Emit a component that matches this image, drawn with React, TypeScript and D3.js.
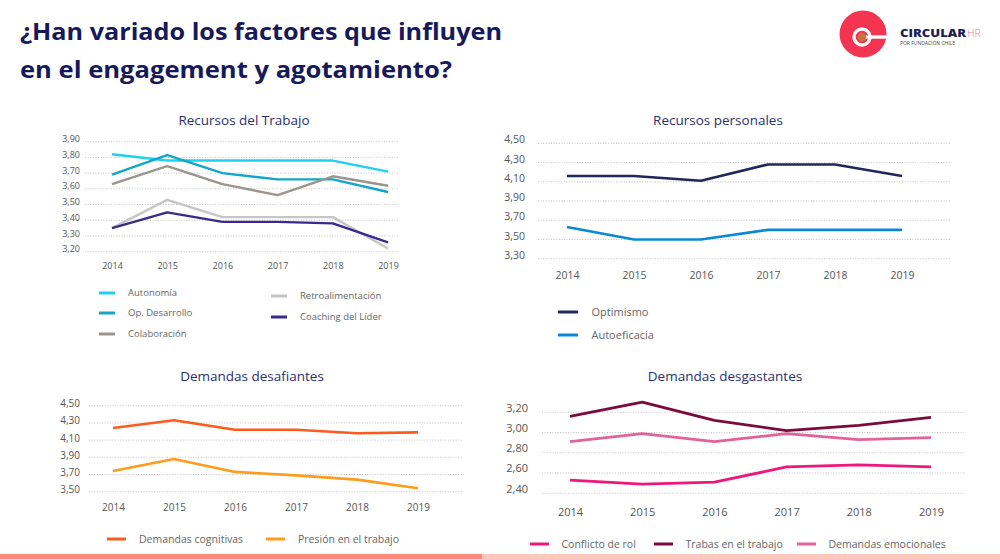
import { useEffect, useRef } from "react";
import * as d3 from "d3";

const years = ["2014", "2015", "2016", "2017", "2018", "2019"];

// Recursos del Trabajo
const trabajoTicks = [3.2, 3.3, 3.4, 3.5, 3.6, 3.7, 3.8, 3.9];
const autonomia = [3.82, 3.78, 3.78, 3.78, 3.78, 3.71];
const opDesarrollo = [3.69, 3.815, 3.7, 3.66, 3.66, 3.58];
const colaboracion = [3.63, 3.745, 3.63, 3.56, 3.68, 3.62];
const retroalimentacion = [3.35, 3.53, 3.42, 3.42, 3.42, 3.22];
const coachingLider = [3.35, 3.45, 3.39, 3.39, 3.38, 3.26];

// Recursos personales
const personalesTicks = [3.3, 3.5, 3.7, 3.9, 4.1, 4.3, 4.5];
const optimismo = [4.16, 4.16, 4.11, 4.28, 4.28, 4.16];
const autoeficacia = [3.63, 3.5, 3.5, 3.6, 3.6, 3.6];

// Demandas desafiantes
const desafiantesTicks = [3.5, 3.7, 3.9, 4.1, 4.3, 4.5];
const demandasCognitivas = [4.24, 4.33, 4.22, 4.22, 4.18, 4.19];
const presionTrabajo = [3.74, 3.88, 3.73, 3.69, 3.64, 3.54];

// Demandas desgastantes
const desgastantesTicks = [2.4, 2.6, 2.8, 3.0, 3.2];
const conflictoRol = [2.53, 2.49, 2.51, 2.66, 2.68, 2.66];
const trabasTrabajo = [3.16, 3.3, 3.12, 3.02, 3.07, 3.15];
const demandasEmocionales = [2.91, 2.99, 2.91, 2.99, 2.93, 2.95];

interface Series { name: string; values: number[]; color: string; lx: number; ly: number; }
interface Panel {
  title: string; tx: number; ty: number;
  ticks: number[];
  xRange: [number, number]; yRange: [number, number];
  gridX: [number, number];
  yLabelX: number; yLabelDy: number; xLabelY: number;
  fontSize: number; legendFont: number; legendGap: number; swatchW: number; strokeW: number;
  series: Series[];
}

const panels: Panel[] = [
  {
    title: "Recursos del Trabajo", tx: 244, ty: 120, ticks: trabajoTicks,
    xRange: [112, 388], yRange: [251.7, 141.7], gridX: [85, 398],
    yLabelX: 80, yLabelDy: -3, xLabelY: 266, fontSize: 9, legendFont: 9.5, legendGap: 29, swatchW: 16, strokeW: 2.4,
    series: [
      { name: "Autonomía", values: autonomia, color: "#1fd0f5", lx: 99, ly: 293 },
      { name: "Op. Desarrollo", values: opDesarrollo, color: "#12a6c8", lx: 99, ly: 313 },
      { name: "Colaboración", values: colaboracion, color: "#9b958f", lx: 99, ly: 334 },
      { name: "Retroalimentación", values: retroalimentacion, color: "#c6c6c6", lx: 271, ly: 296 },
      { name: "Coaching del Líder", values: coachingLider, color: "#3b2a8e", lx: 271, ly: 317 },
    ],
  },
  {
    title: "Recursos personales", tx: 718, ty: 120, ticks: personalesTicks,
    xRange: [567, 902], yRange: [258.7, 143.3], gridX: [538, 950],
    yLabelX: 525, yLabelDy: -4, xLabelY: 275, fontSize: 10.5, legendFont: 11, legendGap: 33.5, swatchW: 20, strokeW: 2.6,
    series: [
      { name: "Optimismo", values: optimismo, color: "#1f2858", lx: 558, ly: 312 },
      { name: "Autoeficacia", values: autoeficacia, color: "#0a88d8", lx: 558, ly: 335 },
    ],
  },
  {
    title: "Demandas desafiantes", tx: 252, ty: 376, ticks: desafiantesTicks,
    xRange: [113, 418], yRange: [491.7, 405.7], gridX: [89, 462],
    yLabelX: 80, yLabelDy: -2.5, xLabelY: 507, fontSize: 10, legendFont: 10.5, legendGap: 32, swatchW: 19, strokeW: 2.6,
    series: [
      { name: "Demandas cognitivas", values: demandasCognitivas, color: "#ff5a1e", lx: 107, ly: 539 },
      { name: "Presión en el trabajo", values: presionTrabajo, color: "#ff9c1c", lx: 266, ly: 539 },
    ],
  },
  {
    title: "Demandas desgastantes", tx: 725, ty: 376, ticks: desgastantesTicks,
    xRange: [570, 931], yRange: [493.3, 412.3], gridX: [542, 965],
    yLabelX: 528, yLabelDy: -5, xLabelY: 512, fontSize: 11, legendFont: 10.5, legendGap: 31.5, swatchW: 19, strokeW: 2.8,
    series: [
      { name: "Conflicto de rol", values: conflictoRol, color: "#f0177c", lx: 530, ly: 544 },
      { name: "Trabas en el trabajo", values: trabasTrabajo, color: "#7b0b3c", lx: 654, ly: 544 },
      { name: "Demandas emocionales", values: demandasEmocionales, color: "#e2629c", lx: 797, ly: 544 },
    ],
  },
];

const FONT = "'Open Sans', 'DejaVu Sans', sans-serif";
const fmt = (v: number) => d3.format(".2f")(v).replace(".", ",");

export default function App() {
  const svgRef = useRef<SVGSVGElement>(null);

  useEffect(() => {
    if (!svgRef.current) return;
    const svg = d3.select(svgRef.current);
    svg.selectAll("*").remove();

    svg.append("rect").attr("width", 1000).attr("height", 559).attr("fill", "#ffffff");

    // Heading
    const heading = ["¿Han variado los factores que influyen", "en el engagement y agotamiento?"];
    const headingW = [482, 432];
    heading.forEach((t, i) => {
      svg.append("text").attr("x", 20).attr("y", 39.5 + i * 38.5)
        .attr("font-family", FONT).attr("font-weight", 700).attr("font-size", 22.5)
        .attr("fill", "#16195a").attr("textLength", headingW[i]).attr("lengthAdjust", "spacingAndGlyphs")
        .text(t);
    });

    // Logo
    const logo = svg.append("g");
    logo.append("circle").attr("cx", 863).attr("cy", 34).attr("r", 23.5).attr("fill", "#f43552");
    logo.append("circle").attr("cx", 862).attr("cy", 37).attr("r", 8).attr("fill", "none")
      .attr("stroke", "#fff").attr("stroke-width", 3.4);
    logo.append("rect").attr("x", 862).attr("y", 35.3).attr("width", 25).attr("height", 3.4).attr("fill", "#fff");
    logo.append("circle").attr("cx", 862).attr("cy", 37).attr("r", 4.3).attr("fill", "#c8743c");
    logo.append("text").attr("x", 900).attr("y", 37).attr("font-family", FONT).attr("font-weight", 800)
      .attr("font-size", 10.5).attr("fill", "#1b1d4f").attr("textLength", 66).attr("lengthAdjust", "spacingAndGlyphs")
      .text("CIRCULAR");
    logo.append("text").attr("x", 967).attr("y", 37).attr("font-family", FONT).attr("font-weight", 300)
      .attr("font-size", 10.5).attr("fill", "#f47a8a").text("HR");
    logo.append("text").attr("x", 900).attr("y", 44.5).attr("font-family", FONT)
      .attr("font-size", 4.6).attr("fill", "#444").attr("textLength", 55).attr("lengthAdjust", "spacingAndGlyphs")
      .text("POR FUNDACIÓN CHILE");

    panels.forEach(p => {
      const x = d3.scalePoint<string>().domain(years).range(p.xRange);
      const y = d3.scaleLinear().domain([p.ticks[0], p.ticks[p.ticks.length - 1]]).range(p.yRange);
      const g = svg.append("g");

      g.append("text").attr("x", p.tx).attr("y", p.ty).attr("dy", "0.35em")
        .attr("text-anchor", "middle").attr("font-family", FONT).attr("font-size", 13.5)
        .attr("fill", "#2b2f6c").text(p.title);

      // Dotted grid
      g.selectAll(".grid").data(p.ticks).enter().append("line")
        .attr("x1", p.gridX[0]).attr("x2", p.gridX[1])
        .attr("y1", d => y(d)).attr("y2", d => y(d))
        .attr("stroke", "#bdbdbd").attr("stroke-width", 0.9).attr("stroke-dasharray", "1,1.6");

      // Y axis labels
      g.append("g").attr("transform", `translate(${p.yLabelX},0)`)
        .call(d3.axisLeft(y).tickValues(p.ticks).tickFormat(d => fmt(d as number)).tickSize(0).tickPadding(0))
        .call(ax => ax.select(".domain").remove())
        .call(ax => ax.selectAll(".tick text").attr("fill", "#555").attr("font-size", p.fontSize)
          .attr("font-family", FONT).attr("dy", `${p.yLabelDy + p.fontSize * 0.35}px`));

      // X axis labels
      g.append("g").attr("transform", `translate(0,${p.xLabelY})`)
        .call(d3.axisBottom(x).tickSize(0).tickPadding(0))
        .call(ax => ax.select(".domain").remove())
        .call(ax => ax.selectAll(".tick text").attr("fill", "#555").attr("font-size", p.fontSize)
          .attr("font-family", FONT).attr("dy", "0.35em"));

      const line = d3.line<number>().x((_, i) => x(years[i]) as number).y(d => y(d));
      p.series.forEach(s => {
        g.append("path").datum(s.values).attr("d", line).attr("fill", "none")
          .attr("stroke", s.color).attr("stroke-width", p.strokeW).attr("stroke-linejoin", "round");
        // Legend
        g.append("line").attr("x1", s.lx).attr("x2", s.lx + p.swatchW).attr("y1", s.ly).attr("y2", s.ly)
          .attr("stroke", s.color).attr("stroke-width", 3);
        g.append("text").attr("x", s.lx + p.legendGap).attr("y", s.ly).attr("dy", "0.35em")
          .attr("font-family", FONT).attr("font-size", p.legendFont).attr("fill", "#666").text(s.name);
      });
    });

    // Bottom band
    svg.append("rect").attr("x", 0).attr("y", 554).attr("width", 482).attr("height", 5).attr("fill", "#f78b7c");
    svg.append("rect").attr("x", 482).attr("y", 554).attr("width", 518).attr("height", 5).attr("fill", "#fdc7bc");
  }, []);

  return (
    <svg ref={svgRef} width={1000} height={559}
      style={{ position: "absolute", left: 0, top: 0, display: "block" }} />
  );
}
